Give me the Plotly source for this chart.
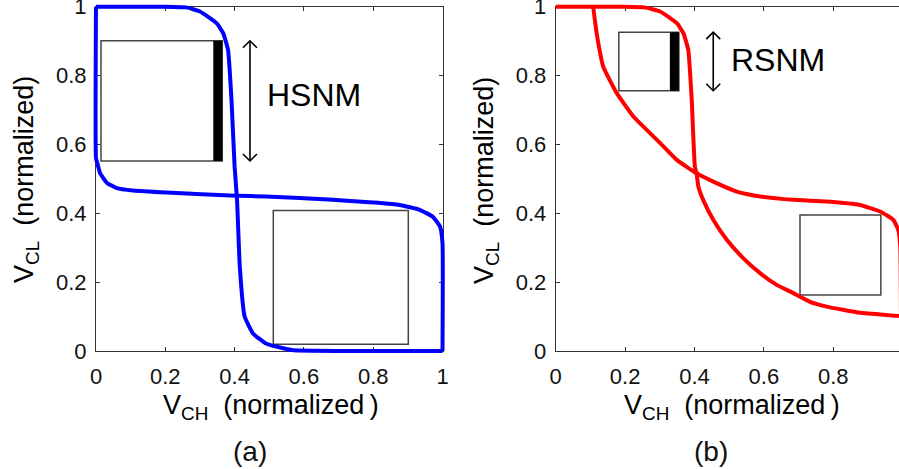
import plotly.graph_objects as go

W, H = 899, 469
FONT = "Liberation Sans, Arial, sans-serif"

TICK_VALS = [0, 0.2, 0.4, 0.6, 0.8, 1.0]
TICK_TEXT = ["0", "0.2", "0.4", "0.6", "0.8", "1"]

# ---- panel (a): hold butterfly curves ----
A1_X = [0.0, 0.10, 0.20, 0.26, 0.30, 0.348, 0.367, 0.381, 0.391, 0.400, 0.407,
        0.415, 0.429, 0.453, 0.490, 0.540, 0.570, 0.70, 0.85, 1.0]
A1_Y = [1.0, 1.0, 1.0, 0.998, 0.986, 0.952, 0.923, 0.875, 0.730, 0.536, 0.439,
        0.245, 0.100, 0.051, 0.022, 0.008, 0.002, 0.0, 0.0, 0.0]
A2_X = [1.0, 1.0, 0.993, 0.972, 0.934, 0.876, 0.684, 0.490, 0.405, 0.204,
        0.107, 0.060, 0.031, 0.012, 0.004, 0.0, 0.0]
A2_Y = [0.0, 0.313, 0.361, 0.390, 0.410, 0.424, 0.439, 0.449, 0.451, 0.460,
        0.466, 0.473, 0.489, 0.516, 0.545, 0.560, 1.0]

# ---- panel (b): read butterfly curves ----
B1_X = [0.0, 0.10, 0.20, 0.255, 0.301, 0.349, 0.368, 0.382, 0.392, 0.401, 0.406,
        0.411, 0.425, 0.454, 0.493, 0.541, 0.589, 0.637, 0.685, 0.733, 0.781,
        0.877, 0.987, 1.0]
B1_Y = [1.0, 1.0, 1.0, 0.998, 0.986, 0.952, 0.923, 0.875, 0.730, 0.536, 0.516,
        0.478, 0.439, 0.381, 0.323, 0.269, 0.226, 0.192, 0.168, 0.143, 0.129,
        0.111, 0.102, 0.100]
B2_X = [0.108, 0.118, 0.137, 0.176, 0.224, 0.301, 0.349, 0.406, 0.454, 0.522,
        0.589, 0.685, 0.781, 0.877, 0.935, 0.973, 0.987, 0.993, 0.995]
B2_Y = [1.0, 0.923, 0.826, 0.749, 0.681, 0.604, 0.555, 0.516, 0.492, 0.463,
        0.449, 0.439, 0.434, 0.424, 0.405, 0.381, 0.352, 0.300, 0.100]

# ---- noise-margin squares (x0, x1, y0, y1) ----
A_BOX_X0 = [0.0144, 0.5117]
A_BOX_X1 = [0.3645, 0.9013]
A_BOX_Y0 = [0.552, 0.0195]
A_BOX_Y1 = [0.901, 0.408]
A_BAR = [0.3385, 0.3645, 0.552, 0.901]

B_BOX_X0 = [0.182, 0.704]
B_BOX_X1 = [0.355, 0.937]
B_BOX_Y0 = [0.756, 0.163]
B_BOX_Y1 = [0.926, 0.395]
B_BAR = [0.329, 0.355, 0.756, 0.926]

# ---- margin arrows and labels ----
A_ARROW = [0.4444, 0.552, 0.901]
B_ARROW = [0.454, 0.756, 0.926]
A_LABEL = ["HSNM", 0.4877, 0.744]
B_LABEL = ["RSNM", 0.500, 0.846]

# ---- pixel layout ----
AX_L, AX_R = 96.0, 442.5
BX_L = 555.7
UNIT_A, UNIT_B = 346.5, 347.0
Y_BOT, Y_TOP = 351.0, 6.7
UNIT_Y = Y_BOT - Y_TOP
PAD = 4.0

fig = go.Figure()

for xs, ys, col, xa, ya in [(A1_X, A1_Y, "#0000FF", "x3", "y3"),
                            (A2_X, A2_Y, "#0000FF", "x3", "y3"),
                            (B1_X, B1_Y, "#FF0000", "x4", "y4"),
                            (B2_X, B2_Y, "#FF0000", "x4", "y4")]:
    fig.add_trace(go.Scatter(x=xs, y=ys, mode="lines", xaxis=xa, yaxis=ya,
                             line=dict(color=col, width=4, shape="spline", smoothing=0.4),
                             showlegend=False, hoverinfo="skip"))

shapes = []
annotations = []


def add_panel_marks(xref, yref, bx0, bx1, by0, by1, bar, arrow, label, unit_x):
    for x0, x1, y0, y1 in zip(bx0, bx1, by0, by1):
        shapes.append(dict(type="rect", xref=xref, yref=yref, x0=x0, x1=x1, y0=y0, y1=y1,
                           line=dict(color="#444444", width=1.5), fillcolor="rgba(0,0,0,0)",
                           layer="below"))
    shapes.append(dict(type="rect", xref=xref, yref=yref, x0=bar[0], x1=bar[1],
                       y0=bar[2], y1=bar[3], line=dict(width=0), fillcolor="black",
                       layer="below"))
    ax, ay0, ay1 = arrow
    shapes.append(dict(type="line", xref=xref, yref=yref, x0=ax, x1=ax, y0=ay0, y1=ay1,
                       line=dict(color="black", width=1.6)))
    dx = 7.0 / unit_x
    dy = 7.0 / UNIT_Y
    shapes.append(dict(type="path", xref=xref, yref=yref,
                       path=f"M {ax-dx},{ay1-dy} L {ax},{ay1} L {ax+dx},{ay1-dy}",
                       line=dict(color="black", width=1.6)))
    shapes.append(dict(type="path", xref=xref, yref=yref,
                       path=f"M {ax-dx},{ay0+dy} L {ax},{ay0} L {ax+dx},{ay0+dy}",
                       line=dict(color="black", width=1.6)))
    annotations.append(dict(text=label[0], xref=xref, yref=yref, x=label[1], y=label[2],
                            xanchor="left", yanchor="middle", showarrow=False,
                            font=dict(family=FONT, size=32, color="black")))


add_panel_marks("x", "y", A_BOX_X0, A_BOX_X1, A_BOX_Y0, A_BOX_Y1, A_BAR, A_ARROW, A_LABEL, UNIT_A)
add_panel_marks("x2", "y2", B_BOX_X0, B_BOX_X1, B_BOX_Y0, B_BOX_Y1, B_BAR, B_ARROW, B_LABEL, UNIT_B)

TITLE_SIZE = 27
NB = "\u00a0"
xt = "V<sub>CH</sub>" + NB + NB + "(normalized" + "\u2009" + ")"
yt = "V<sub>CL</sub>" + NB + NB + "(normalized)"
for cx, lab, ycx in [((AX_L + AX_R) / 2 + 2, "(a)", 26), (BX_L + 176, "(b)", 486)]:
    annotations.append(dict(text=xt, xref="paper", yref="paper", x=cx / W, y=1 - 407 / H,
                            xanchor="center", yanchor="middle", showarrow=False,
                            font=dict(family=FONT, size=TITLE_SIZE, color="black")))
    annotations.append(dict(text=yt, xref="paper", yref="paper", x=ycx / W,
                            y=1 - 180 / H, xanchor="center", yanchor="middle",
                            textangle=-90, showarrow=False,
                            font=dict(family=FONT, size=TITLE_SIZE, color="black")))
    annotations.append(dict(text=lab, xref="paper", yref="paper", x=(cx - 21) / W,
                            y=1 - 451 / H, xanchor="center", yanchor="middle",
                            showarrow=False,
                            font=dict(family=FONT, size=28, color="#111111")))

axis_common = dict(showgrid=False, zeroline=False, showline=True, linecolor="#333333",
                   linewidth=1, ticks="inside", ticklen=4, tickcolor="#333333",
                   tickvals=TICK_VALS, ticktext=TICK_TEXT, ticklabeloverflow="allow",
                   automargin=False,
                   tickfont=dict(family=FONT, size=22, color="#111111"))
hidden = dict(visible=False, showgrid=False, zeroline=False, automargin=False)

y_dom = [(H - Y_BOT) / H, (H - Y_TOP) / H]
y_dom_ext = [(H - Y_BOT - PAD) / H, (H - Y_TOP + PAD) / H]
y_rng_ext = [-PAD / UNIT_Y, 1 + PAD / UNIT_Y]
b_xmax = (W - BX_L) / UNIT_B

fig.update_layout(
    width=W, height=H,
    margin=dict(l=0, r=0, t=0, b=0, autoexpand=False),
    paper_bgcolor="white", plot_bgcolor="rgba(0,0,0,0)",
    xaxis=dict(domain=[AX_L / W, AX_R / W], range=[0, 1], anchor="y", mirror="ticks",
               ticklabelstandoff=6, **axis_common),
    yaxis=dict(domain=y_dom, range=[0, 1], anchor="x", mirror="ticks",
               ticklabelstandoff=4, **axis_common),
    xaxis2=dict(domain=[BX_L / W, 1], range=[0, b_xmax], anchor="y2", mirror="ticks",
                ticklabelstandoff=6, **axis_common),
    yaxis2=dict(domain=y_dom, range=[0, 1], anchor="x2", mirror=False,
                ticklabelstandoff=4, **axis_common),
    xaxis3=dict(domain=[(AX_L - PAD) / W, (AX_R + PAD) / W],
                range=[-PAD / UNIT_A, 1 + PAD / UNIT_A], anchor="y3", **hidden),
    yaxis3=dict(domain=y_dom_ext, range=y_rng_ext, anchor="x3", **hidden),
    xaxis4=dict(domain=[(BX_L - PAD) / W, 1], range=[-PAD / UNIT_B, b_xmax],
                anchor="y4", **hidden),
    yaxis4=dict(domain=y_dom_ext, range=y_rng_ext, anchor="x4", **hidden),
    shapes=shapes,
    annotations=annotations,
)

fig.write_html("out.html")
